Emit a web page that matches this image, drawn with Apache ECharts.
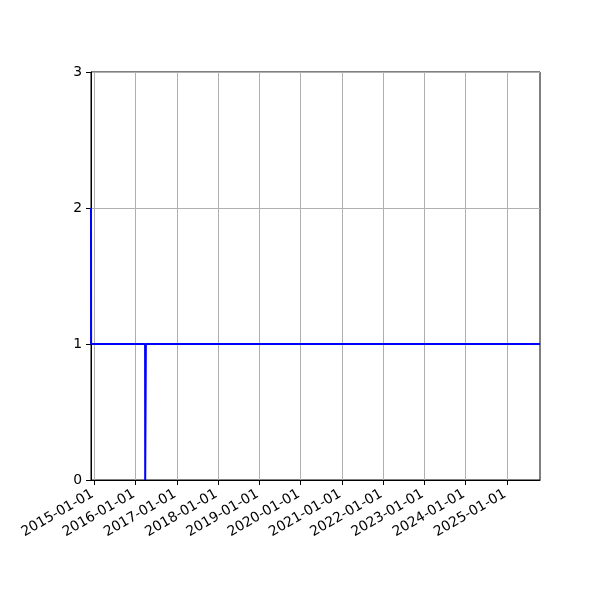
<!DOCTYPE html>
<html>
<head>
<meta charset="utf-8">
<script src="https://cdn.jsdelivr.net/npm/echarts@6/dist/echarts.min.js"></script>
<style>
html,body{margin:0;padding:0;background:#fff;}
#chart{width:600px;height:600px;}
</style>
</head>
<body>
<div id="chart"></div>
<script>
// ---- data ----
const dates = ['2014-12-03', '2014-12-04', '2016-03-26', '2016-03-27', '2016-04-01', '2016-04-02', '2025-10-22'];
const values = [2, 1, 1, 0, 0, 1, 1];
const xTickLabels = ['2015-01-01','2016-01-01','2017-01-01','2018-01-01','2019-01-01','2020-01-01','2021-01-01','2022-01-01','2023-01-01','2024-01-01','2025-01-01'];
const yTicks = [0, 1, 2, 3];
const xRange = ['2014-12-03', '2025-10-22'];

function toTs(s) {
  const p = s.split('-').map(Number);
  return Date.UTC(p[0], p[1] - 1, p[2]);
}
function pad(n) { return (n < 10 ? '0' : '') + n; }
function fmt(v) {
  const d = new Date(v);
  return d.getUTCFullYear() + '-' + pad(d.getUTCMonth() + 1) + '-' + pad(d.getUTCDate());
}

const seriesData = dates.map((d, i) => [toTs(d), values[i]]);
const tickVals = xTickLabels.map(toTs);

const chart = echarts.init(document.getElementById('chart'), null, {renderer: 'canvas'});
chart.setOption({
  animation: false,
  backgroundColor: '#ffffff',
  grid: {
    left: 91, right: 60, top: 72, bottom: 120,
    show: true, borderColor: '#000000', borderWidth: 1, backgroundColor: 'transparent',
    containLabel: false
  },
  xAxis: {
    type: 'value',
    min: toTs(xRange[0]),
    max: toTs(xRange[1]),
    axisLine: {show: true, lineStyle: {color: '#000', width: 1}},
    axisTick: {show: true, customValues: tickVals, length: 5, inside: false, lineStyle: {color: '#000', width: 1}},
    axisLabel: {
      show: true, customValues: tickVals, rotate: 30, color: '#000',
      fontFamily: 'DejaVu Sans', fontSize: 13.9, margin: 12,
      padding: [0, 2, 0, 0],
      formatter: function (v) { return fmt(v); },
      hideOverlap: false
    },
    splitLine: {show: true, lineStyle: {color: '#b0b0b0', width: 1}}
  },
  yAxis: {
    type: 'value',
    min: yTicks[0], max: yTicks[yTicks.length - 1], interval: 1,
    axisLine: {show: true, lineStyle: {color: '#000', width: 1}},
    axisTick: {show: true, length: 5, lineStyle: {color: '#000', width: 1}},
    axisLabel: {color: '#000', fontFamily: 'DejaVu Sans', fontSize: 13.9, margin: 9},
    splitLine: {show: true, lineStyle: {color: '#b0b0b0', width: 1}}
  },
  series: [{
    type: 'line',
    data: seriesData,
    showSymbol: false,
    symbol: 'none',
    lineStyle: {color: '#0000ff', width: 2},
    itemStyle: {color: '#0000ff'},
    clip: true
  }]
});
</script>
</body>
</html>
